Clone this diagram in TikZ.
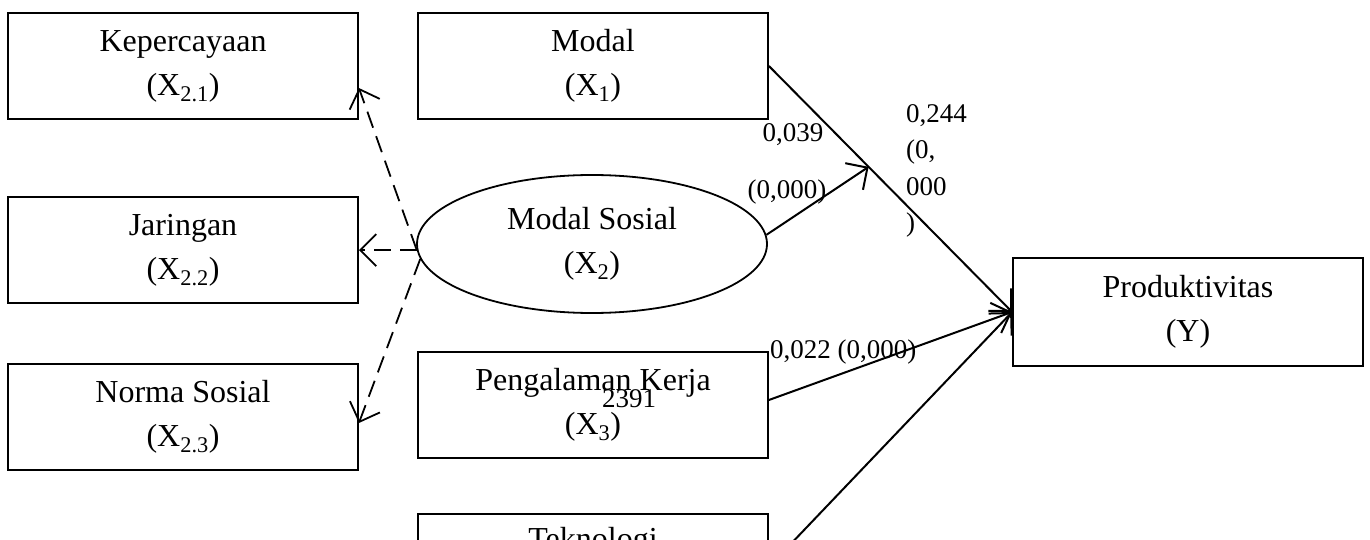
\documentclass[tikz,border=0pt]{standalone}
\usepackage{fontspec}
\setmainfont{Liberation Serif}
\usetikzlibrary{arrows.meta}
\usetikzlibrary{shapes.geometric}
\usetikzlibrary{calc}

\begin{document}
\begin{tikzpicture}[x=1pt, y=-1pt, >={Straight Barb[length=16pt,width=32pt]},
    box/.style={draw, line width=1.8pt, minimum width=350pt, minimum height=106pt, inner sep=0pt, align=center, font=\fontsize{32}{44}\selectfont},
    coef/.style={inner sep=0pt, font=\fontsize{27}{36.5}\selectfont},
    link/.style={->, line width=2pt},
    dashlink/.style={->, line width=1.8pt, dash pattern=on 17pt off 9pt}]
      % page in pixel units, origin at upper left corner
      \clip (0, 0) rectangle (1370, 540);
      \node [box] (kep) at (183, 66) {Kepercayaan\\(X\textsubscript{2.1})};
      \node [box] (jar) at (183, 250) {Jaringan\\(X\textsubscript{2.2})};
      \node [box] (norma) at (183, 417) {Norma Sosial\\(X\textsubscript{2.3})};
      \node [box] (modal) at (593, 66) {Modal\\(X\textsubscript{1})};
      \node [box, ellipse, minimum height=138pt] (sosial) at (592, 244) {Modal Sosial\\(X\textsubscript{2})};
      \node [box] (peng) at (593, 405) {Pengalaman Kerja\\(X\textsubscript{3})};
      \node [box, anchor=north, text depth=58pt] (tek) at (593, 513) {Teknologi};
      \node [box, minimum height=108pt] (prod) at (1188, 312) {Produktivitas\\(Y)};

      \coordinate (meet) at ($(modal.east)!0.41!(prod.west)$);
      \draw [link] (modal.east) -- (prod.west);
      \draw [link] (sosial.3) -- (meet);
      \draw [link] ([yshift=5pt]peng.east) -- (prod.west);
      \draw [link] (tek.east) -- (prod.west);

      \draw [dashlink] (sosial.182) -- ([yshift=-22pt]kep.east);
      \draw [dashlink] (sosial.182) -- (sosial.182 -| jar.east);
      \draw [dashlink] (sosial.185) -- ([yshift=-6pt]norma.east);

      \node [coef] (b1) at (793, 135) {0,039};
      \node [coef] (p1) at (787, 192) {(0,000)};
      \node [coef, anchor=north west, align=left] (b2) at (906, 104) {0,244\\(0,\\000\\)};
      \node [coef, anchor=west] (b3) at (770, 352) {0,022 (0,000)};
      \node [coef] (b4) at (629, 399) {2391};
\end{tikzpicture}
\end{document}
